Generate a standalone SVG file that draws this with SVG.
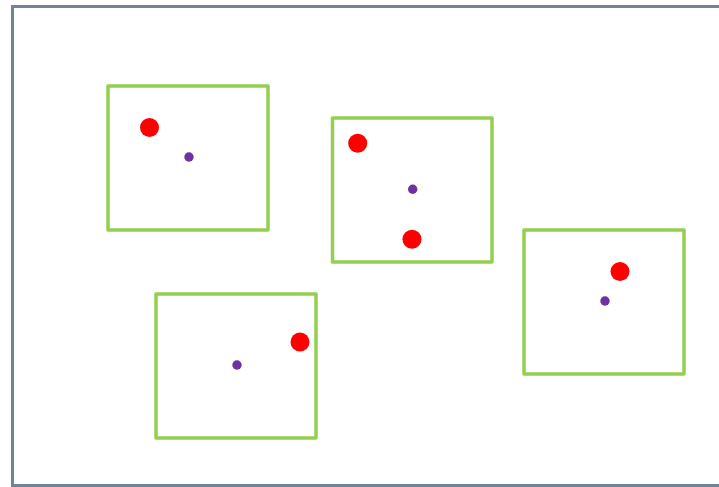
<svg xmlns="http://www.w3.org/2000/svg" width="719" height="487" viewBox="0 0 719 487">
<style>
.frame{fill:#ffffff;stroke:#6d8499;stroke-width:3}
.box{fill:none;stroke:#92d050;stroke-width:3.5;stroke-linejoin:round}
.big{fill:#ff0000}
.small{fill:#7030a0}
</style>
<rect x="0" y="0" width="719" height="487" fill="#ffffff"/>
<rect class="frame" x="12.5" y="6.5" width="720" height="479"/>
<g id="box1">
<rect class="box" x="108" y="86" width="160" height="144"/>
<circle class="big" cx="149.5" cy="127.5" r="9.5"/>
<circle class="small" cx="189" cy="157" r="4.7"/>
</g>
<g id="box2">
<rect class="box" x="332.5" y="118" width="159.5" height="144"/>
<circle class="big" cx="357.7" cy="143.3" r="9.5"/>
<circle class="small" cx="412.7" cy="189.3" r="4.7"/>
<circle class="big" cx="412" cy="239.3" r="9.5"/>
</g>
<g id="box3">
<rect class="box" x="524" y="230" width="160" height="144"/>
<circle class="big" cx="620" cy="271.5" r="9.5"/>
<circle class="small" cx="605" cy="301" r="4.7"/>
</g>
<g id="box4">
<rect class="box" x="156" y="294" width="160" height="144"/>
<circle class="big" cx="300" cy="342" r="9.5"/>
<circle class="small" cx="237" cy="365" r="4.7"/>
</g>
<g id="connectors"/>
</svg>
